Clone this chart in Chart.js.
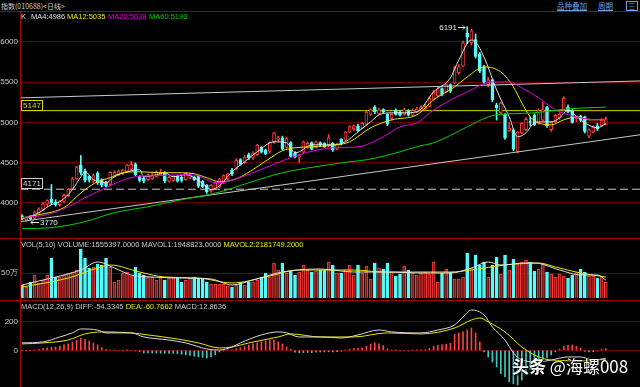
<!DOCTYPE html>
<html>
<head>
<meta charset="utf-8">
<script src="https://cdn.jsdelivr.net/npm/chart.js@4.4.0/dist/chart.umd.min.js"></script>
<style>
body { margin: 0; background: #000; width: 640px; height: 387px; overflow: hidden; position: relative; font-family: "Liberation Sans", Arial, sans-serif; }
canvas { position: absolute; left: 0; }
.t { position: absolute; font-size: 7.5px; line-height: 10px; white-space: nowrap; color: #c8c8c8; }
.sep { position: absolute; left: 0; width: 640px; height: 1px; background: #a00000; }
.lnk { position: absolute; top: 1px; font-size: 7.5px; line-height: 10px; color: #6f9fe6; text-decoration: underline; font-family: "Noto Sans CJK SC", sans-serif; }
</style>
</head>
<body>
<canvas id="mainChart" width="640" height="225" style="top:12px"></canvas>
<canvas id="volChart" width="640" height="59" style="top:239px"></canvas>
<canvas id="macdChart" width="640" height="86" style="top:301px"></canvas>

<div class="sep" style="top:11px"></div>
<div class="sep" style="top:238px"></div>
<div class="sep" style="top:300px"></div>
<div style="position:absolute;left:20px;top:11px;width:1px;height:376px;background:#a00000"></div>

<div class="t" style="left:1px;top:1px;font-size:7px;font-family:'Noto Sans CJK SC',sans-serif">指数(010688)&lt;日线&gt;</div>
<div class="lnk" style="left:557px">品种叠加</div>
<div class="lnk" style="left:598px">周期</div>
<div class="lnk" style="left:626px;text-decoration:none;border:1px solid #6f9fe6;line-height:8px;padding:0 1px">三</div>

<div class="t" style="left:21px;top:12px;color:#e0e0e0">K</div>
<div class="t" style="left:31px;top:12px;color:#e0e0e0">MA4:4986</div>
<div class="t" style="left:67px;top:12px;color:#e8e800">MA12:5035</div>
<div class="t" style="left:108px;top:12px;color:#e000e0">MA20:5038</div>
<div class="t" style="left:149px;top:12px;color:#00d000">MA60:5190</div>

<div class="t" style="left:21px;top:240px">VOL(5,10) VOLUME:1555397.0000 MAVOL1:1948823.0000 <span style="color:#e8e800">MAVOL2:2181749.2000</span></div>
<div class="t" style="left:21px;top:302px">MACD(12,26,9) DIFF:-54.3345 <span style="color:#e8e800">DEA:-60.7662</span> MACD:12.8636</div>

<div style="position:absolute;left:512px;top:356px;font-size:17px;line-height:20px;color:#fff;white-space:nowrap;font-family:'Noto Sans CJK SC',sans-serif;text-shadow:0 0 2px #000,1px 1px 2px #000"><b>头条</b> @海螺008</div>

<script>
// K线数据 (index 0..139)
const openP = [3840,3790,3830,3810,3880,3920,3985,4050,4010,3980,
  4020,4090,4180,4300,4470,4400,4330,4270,4370,4290,
  4260,4230,4330,4350,4360,4390,4420,4480,4330,4310,
  4290,4300,4330,4350,4370,4270,4280,4330,4320,4290,
  4310,4320,4330,4270,4220,4150,4180,4200,4250,4300,
  4410,4420,4540,4500,4600,4560,4600,4690,4660,4640,
  4760,4790,4810,4690,4750,4620,4570,4630,4690,4750,
  4690,4750,4740,4720,4740,4670,4790,4780,4880,4920,
  4960,4930,4980,5100,5190,5110,5160,5100,5050,5150,
  5130,5100,5150,5090,5130,5150,5170,5200,5290,5330,
  5420,5380,5470,5490,5620,5700,6110,5990,6030,5850,
  5690,5470,5530,5220,5120,5100,4900,4910,4640,4870,
  4910,5010,5090,4990,5030,5190,4910,5010,5060,5160,
  5190,5150,5040,5080,5070,4830,4880,4960,4960,4980];
const highP = [3855,3830,3845,3900,3940,4010,4040,4230,4040,4030,
  4110,4180,4320,4460,4590,4420,4340,4360,4390,4300,
  4270,4390,4400,4410,4420,4480,4520,4500,4340,4330,
  4360,4370,4400,4420,4390,4330,4340,4340,4330,4380,
  4370,4330,4340,4280,4230,4230,4260,4310,4350,4370,
  4430,4550,4550,4590,4620,4640,4730,4700,4670,4760,
  4880,4830,4830,4820,4760,4640,4600,4770,4760,4760,
  4770,4760,4750,4850,4750,4740,4800,4890,4960,4970,
  4980,5000,5140,5170,5210,5180,5170,5110,5110,5170,
  5150,5180,5160,5170,5190,5210,5230,5320,5400,5440,
  5430,5480,5480,5700,5720,6010,6191,6160,6100,5870,
  5710,5560,5540,5240,5250,5110,5000,4920,4890,5000,
  5060,5070,5110,5170,5250,5200,5010,5100,5120,5320,
  5220,5160,5080,5090,5080,4920,4960,4990,5050,5070];
const lowP = [3790,3770,3790,3800,3870,3905,3960,3980,3960,3960,
  4000,4075,4170,4290,4350,4260,4260,4250,4230,4200,
  4200,4220,4320,4340,4350,4380,4410,4340,4260,4250,
  4280,4290,4320,4340,4250,4260,4270,4260,4260,4280,
  4300,4280,4190,4190,4120,4130,4170,4190,4240,4290,
  4340,4410,4470,4490,4540,4540,4590,4620,4600,4620,
  4740,4770,4660,4680,4570,4560,4500,4620,4680,4660,
  4680,4700,4690,4700,4640,4660,4720,4770,4870,4900,
  4890,4920,4970,5090,5110,5100,5120,4960,5030,5090,
  5080,5090,5080,5080,5120,5140,5160,5190,5280,5320,
  5330,5370,5370,5480,5600,5690,5980,5960,5800,5620,
  5480,5440,5260,5030,5100,4790,4890,4650,4620,4860,
  4900,4960,4960,4980,5020,4940,4890,5000,5040,5150,
  5120,4990,5010,5010,4870,4810,4870,4900,4950,4970];
const closeP = [3805,3820,3800,3890,3925,3990,4030,4000,3975,4020,
  4095,4170,4300,4440,4380,4280,4290,4340,4250,4220,
  4210,4380,4380,4400,4410,4470,4480,4350,4280,4270,
  4350,4340,4390,4380,4270,4320,4330,4270,4280,4370,
  4350,4290,4210,4200,4140,4220,4250,4290,4340,4360,
  4360,4530,4480,4570,4560,4620,4720,4630,4610,4750,
  4870,4810,4670,4800,4580,4570,4590,4760,4740,4670,
  4760,4720,4700,4810,4660,4730,4740,4880,4950,4960,
  4900,4990,5130,5160,5130,5160,5130,4980,5100,5100,
  5090,5160,5090,5150,5170,5190,5200,5300,5380,5420,
  5350,5470,5390,5680,5690,5990,6060,6140,5820,5640,
  5500,5530,5280,5180,5240,4810,4930,4670,4880,4990,
  5040,5000,4970,5150,5160,4960,5000,5090,5100,5300,
  5130,5000,5060,5030,4890,4910,4950,4920,5030,5050];

// 均线 [index, value]
const ma4 = [[0,3815],[1,3818],[4,3880],[7,3979],[9,4016],[12,4165],[14,4326],[15,4388],[17,4289],[20,4252],
  [22,4326],[25,4388],[28,4413],[29,4326],[32,4351],[34,4376],[36,4326],[39,4351],[41,4314],[44,4202],
  [45,4165],[47,4214],[50,4388],[53,4512],[56,4636],[60,4760],[63,4748],[65,4624],[66,4636],[69,4723],
  [72,4723],[74,4723],[77,4760],[80,4884],[83,5008],[85,5095],[88,5120],[91,5120],[94,5132],[98,5380],
  [102,5554],[104,5777],[107,6025],[108,6000],[110,5814],[113,5405],[116,5070],[118,4822],[120,4872],
  [122,4996],[124,5008],[126,5008],[128,5058],[130,5157],[131,5120],[134,4996],[137,4934],[139,4986]];
const ma12 = [[0,3810],[4,3855],[9,3917],[11,3979],[13,4078],[15,4165],[18,4264],[21,4314],[24,4376],[28,4388],
  [33,4376],[37,4376],[41,4363],[44,4314],[47,4264],[51,4300],[56,4450],[60,4590],[62,4650],[65,4686],
  [69,4698],[75,4723],[78,4760],[83,4934],[88,5033],[94,5095],[98,5281],[103,5442],[106,5566],[110,5690],
  [114,5628],[117,5442],[119,5244],[121,5070],[123,4996],[126,4971],[129,5033],[132,5070],[135,5033],[139,5035]];
const ma20 = [[0,3818],[6,3855],[11,3954],[15,4066],[19,4165],[23,4264],[27,4326],[31,4338],[39,4351],[42,4338],
  [45,4264],[47,4252],[51,4300],[59,4460],[66,4600],[74,4686],[80,4698],[86,4822],[90,4946],[94,4996],
  [98,5157],[106,5380],[112,5504],[116,5504],[119,5430],[123,5306],[127,5157],[132,5070],[137,5033],[139,5038]];
const ma60 = [[0,3681],[7,3694],[15,3768],[22,3880],[30,3954],[38,4041],[47,4135],[54,4252],[62,4376],[73,4475],
  [78,4512],[82,4537],[90,4636],[94,4700],[98,4748],[106,4946],[111,5070],[113,5095],[122,5120],[130,5170],[139,5190]];

// 画线
const upperTrend = [[-0.48,5306],[147.14,5516]];
const lowerTrend = [[-0.48,3768],[147.14,4847]];
const levels = [5147, 4171];
const priceTicks = [4000, 4500, 5000, 5500, 6000];

// 成交量 (万)
const volume = [26,22,32,46,30,36,46,80,42,42, 46,50,52,56,98,80,60,62,68,66,
  80,62,32,36,50,52,44,62,50,46, 42,42,36,42,36,40,40,40,32,36,
  40,42,40,40,32,28,28,28,28,24, 22,26,32,26,32,32,36,42,50,42,
  70,56,70,50,54,46,52,66,56,52, 54,56,56,72,66,50,50,56,66,46,
  66,50,64,38,70,60,58,70,52,44, 48,64,56,50,46,50,52,48,72,32,
  50,58,52,38,38,42,90,60,86,66, 72,42,66,82,48,86,56,78,70,72,
  76,72,54,58,70,52,48,42,48,44, 40,46,52,58,52,44,44,40,44,32];
const mavol1 = [[0,26],[5,36],[10,46],[14,56],[18,72],[22,60],[26,46],[31,42],[38,40],[45,38],[50,26],[55,36],
  [62,52],[71,58],[79,52],[87,52],[95,50],[102,50],[107,60],[111,72],[114,66],[120,70],[122,70],[128,56],
  [133,46],[137,46],[139,36]];
const mavol2 = [[0,22],[11,40],[18,60],[21,66],[28,52],[34,42],[42,40],[50,30],[58,42],[66,56],[71,56],
  [79,56],[86,52],[94,52],[102,52],[107,56],[115,66],[123,70],[127,62],[133,50],[139,42]];
const volTicks = [50];
const volTickLabels = ['50万'];

// MACD
const macdHist = [-3,-2,0,3,8,14,18,22,24,30, 38,46,58,70,84,76,66,52,38,20,
  8,4,2,0,-2,2,0,-3,-8,-17, -17,-18,-18,-19,-19,-20,-20,-22,-26,-31,
  -35,-40,-45,-48,-52,-45,-30,-10,-2,2, 5,12,20,26,38,45,52,59,65,72,
  72,59,45,24,8,-12,-15,-15,-14,-15, -12,-10,-10,-9,-10,-8,-6,2,10,14,
  16,18,30,44,52,46,34,12,4,2, -3,0,-3,2,4,2,6,14,30,36,
  40,44,50,110,121,128,141,155,121,59, -10,-45,-80,-114,-160,-183,-217,-230,-238,-204,
  -159,-130,-114,-79,-65,-52,-31,-10,10,30, 36,38,30,18,-6,-10,-8,-4,8,13];
const diff = [[0,52],[5,59],[9,93],[12,121],[14,148],[18,141],[20,121],[23,121],[26,121],[29,93],[35,72],[39,52],
  [44,10],[47,3],[50,24],[52,52],[57,107],[61,128],[63,121],[66,93],[71,93],[76,86],[80,107],[85,141],[88,128],
  [95,121],[99,141],[103,176],[105,231],[107,279],[110,245],[112,162],[115,72],[117,-17],[119,-66],[123,-79],
  [126,-66],[130,-45],[133,-45],[136,-66],[139,-54]];
const dea = [[0,45],[5,52],[11,72],[15,114],[19,128],[26,121],[30,107],[37,79],[42,52],[47,17],[50,24],[54,52],
  [61,93],[64,114],[71,93],[79,93],[87,121],[95,114],[103,155],[107,210],[109,224],[111,197],[115,128],[119,24],
  [123,-45],[126,-66],[134,-72],[139,-61]];
const macdTicks = [0, 200];

const RED = '#ff3c3c';
const CYAN = '#54fcfc';
const X_MIN = -0.48, X_MAX = 147.14;

const idx = closeP.map((_, i) => i);
const isUp = idx.map(i => closeP[i] >= openP[i]);
const pts = arr => arr.map(([x, y]) => ({ x, y }));

function xAxis() {
    return { type: 'linear', min: X_MIN, max: X_MAX, offset: false, display: false };
}

function yAxis(min, max, ticks, labels) {
    return {
        type: 'linear', position: 'left', min: min, max: max,
        afterBuildTicks: s => { s.ticks = ticks.map(v => ({ value: v })); },
        afterFit: s => { s.width = 20; s.paddingTop = 0; s.paddingBottom = 0; },
        grid: { color: '#6a0000', drawTicks: false },
        border: { display: false },
        ticks: {
            color: '#c8c8c8', padding: 2,
            font: { size: 8, family: 'Liberation Sans' },
            callback: (v) => labels ? labels[ticks.indexOf(v)] : String(v)
        }
    };
}

function lineSet(data, color, extra) {
    return Object.assign({
        type: 'line', data: pts(data), borderColor: color, borderWidth: 1,
        pointRadius: 0, fill: false, cubicInterpolationMode: 'monotone', order: 0
    }, extra || {});
}

const baseOptions = {
    responsive: false, animation: false, devicePixelRatio: 1, events: [],
    layout: { padding: 0 },
    plugins: { legend: { display: false }, tooltip: { enabled: false } }
};

// 最高/最低 标注 + 画线价位框
const annot = {
    id: 'annot',
    afterDatasetsDraw(chart) {
        const { ctx, scales: { x, y } } = chart;
        let hi = 0, lo = 0;
        highP.forEach((v, i) => { if (v > highP[hi]) hi = i; });
        lowP.forEach((v, i) => { if (v < lowP[lo]) lo = i; });
        ctx.save();
        ctx.font = '8px "Liberation Sans"';
        ctx.textBaseline = 'middle';
        ctx.strokeStyle = '#e8e8e8';
        ctx.fillStyle = '#e8e8e8';
        ctx.lineWidth = 1;

        const hx = Math.round(x.getPixelForValue(hi)), hy = Math.round(y.getPixelForValue(highP[hi]));
        ctx.beginPath();
        ctx.moveTo(hx - 9, hy + 0.5); ctx.lineTo(hx - 2, hy + 0.5);
        ctx.moveTo(hx - 4, hy - 1.5); ctx.lineTo(hx - 2, hy + 0.5); ctx.lineTo(hx - 4, hy + 2.5);
        ctx.stroke();
        ctx.textAlign = 'right';
        ctx.fillText(String(highP[hi]), hx - 10, hy + 1);

        const lx = Math.round(x.getPixelForValue(lo)), ly = Math.round(y.getPixelForValue(lowP[lo]));
        ctx.beginPath();
        ctx.moveTo(lx + 5, ly + 0.5); ctx.lineTo(lx + 13, ly + 0.5);
        ctx.moveTo(lx + 7, ly - 1.5); ctx.lineTo(lx + 5, ly + 0.5); ctx.lineTo(lx + 7, ly + 2.5);
        ctx.stroke();
        ctx.textAlign = 'left';
        ctx.fillText(String(lowP[lo]), lx + 14, ly + 1);

        const boxColors = ['#d8d800', '#d0d0d0'];
        levels.forEach((v, k) => {
            const py = Math.round(y.getPixelForValue(v));
            ctx.fillStyle = '#000';
            ctx.fillRect(21, py - 10, 22, 10);
            ctx.strokeStyle = boxColors[k];
            ctx.strokeRect(21.5, py - 10.5, 21, 10);
            ctx.fillStyle = boxColors[k];
            ctx.textAlign = 'center';
            ctx.fillText(String(v), 32, py - 5);
        });
        ctx.restore();
    }
};

new Chart(document.getElementById('mainChart'), {
    type: 'bar',
    data: {
        datasets: [
            lineSet(ma60, '#00d000'),
            lineSet(ma20, '#e000e0'),
            lineSet(ma12, '#e8e800'),
            lineSet(ma4, '#e0e0e0'),
            lineSet(upperTrend, '#c8c8c8', { cubicInterpolationMode: 'default', tension: 0 }),
            lineSet(lowerTrend, '#c8c8c8', { cubicInterpolationMode: 'default', tension: 0 }),
            lineSet([[X_MIN, levels[0]], [X_MAX, levels[0]]], '#d8d800', { order: 3 }),
            lineSet([[X_MIN, levels[1]], [X_MAX, levels[1]]], '#c8c8c8', { order: 3, borderDash: [8, 4] }),
            {
                type: 'bar', order: 1, grouped: false, barThickness: 3,
                data: idx.map(i => ({ x: i, y: [openP[i], closeP[i]] })),
                backgroundColor: c => isUp[c.dataIndex] ? '#000' : CYAN,
                borderColor: c => isUp[c.dataIndex] ? RED : CYAN,
                borderWidth: 1, borderSkipped: false
            },
            {
                type: 'bar', order: 2, grouped: false, barThickness: 1,
                data: idx.map(i => ({ x: i, y: [lowP[i], highP[i]] })),
                backgroundColor: c => isUp[c.dataIndex] ? RED : CYAN,
                borderWidth: 0
            }
        ]
    },
    options: Object.assign({}, baseOptions, {
        scales: { x: xAxis(), y: yAxis(3577.6, 6372.6, priceTicks) }
    }),
    plugins: [annot]
});

new Chart(document.getElementById('volChart'), {
    type: 'bar',
    data: {
        datasets: [
            lineSet(mavol1, '#e0e0e0'),
            lineSet(mavol2, '#e8e800'),
            {
                type: 'bar', order: 1, grouped: false, barThickness: 3,
                data: idx.map(i => ({ x: i, y: volume[i] })),
                backgroundColor: c => isUp[c.dataIndex] ? '#7a1616' : CYAN,
                borderColor: c => isUp[c.dataIndex] ? RED : CYAN,
                borderWidth: 1
            }
        ]
    },
    options: Object.assign({}, baseOptions, {
        scales: { x: xAxis(), y: yAxis(0, 118, volTicks, volTickLabels) }
    })
});

new Chart(document.getElementById('macdChart'), {
    type: 'bar',
    data: {
        datasets: [
            lineSet(diff, '#d8d8d8'),
            lineSet(dea, '#e8e800'),
            {
                type: 'bar', order: 1, grouped: false, barThickness: 1,
                data: idx.map(i => ({ x: i, y: macdHist[i] })),
                backgroundColor: c => macdHist[c.dataIndex] >= 0 ? '#ff4040' : '#40c8c0',
                borderWidth: 0
            }
        ]
    },
    options: Object.assign({}, baseOptions, {
        scales: { x: xAxis(), y: yAxis(-252, 341, macdTicks) }
    })
});
</script>
</body>
</html>
